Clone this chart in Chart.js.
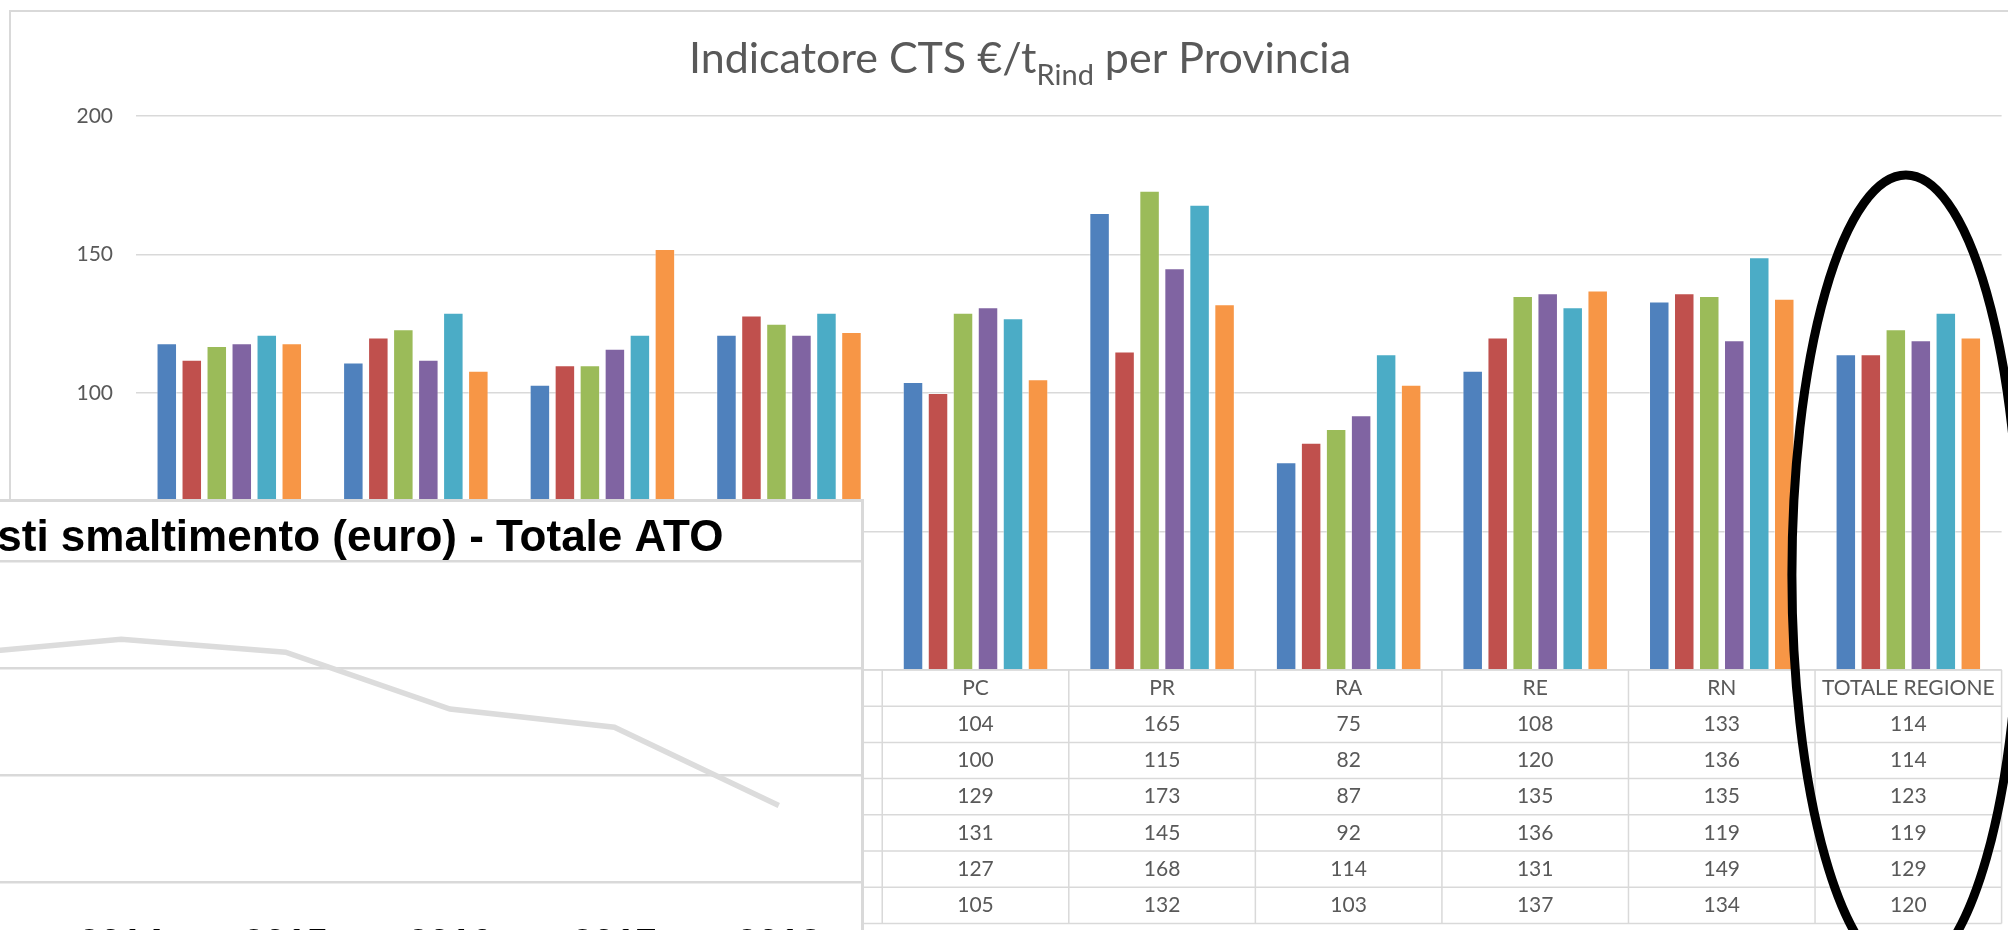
<!DOCTYPE html>
<html>
<head>
<meta charset="utf-8">
<script src="https://cdn.jsdelivr.net/npm/chart.js@4.4.1/dist/chart.umd.min.js"></script>
<style>
html, body { margin: 0; padding: 0; background: #fff; overflow: hidden; }
body { width: 2008px; height: 930px; position: relative; }
#main { position: absolute; left: 0; top: 0; }
#inset { position: absolute; left: -199px; top: 499px; width: 1060px; height: 460px; background: #fff;
         border-top: 3px solid #d9d9d9; border-right: 3px solid #d9d9d9; z-index: 2; }
#inset canvas { display: block; }
</style>
</head>
<body>
<canvas id="main" width="2008" height="930"></canvas>
<div id="inset"><canvas id="ato" width="1060" height="460"></canvas></div>
<script>
// bar chart: CTS per provincia
const categories = ['BO', 'FC', 'FE', 'MO', 'PC', 'PR', 'RA', 'RE', 'RN', 'TOTALE REGIONE'];
const years = ['2013', '2014', '2015', '2016', '2017', '2018'];
const cts2013 = [118, 111, 103, 121, 104, 165, 75, 108, 133, 114];
const cts2014 = [112, 120, 110, 128, 100, 115, 82, 120, 136, 114];
const cts2015 = [117, 123, 110, 125, 129, 173, 87, 135, 135, 123];
const cts2016 = [118, 112, 116, 121, 131, 145, 92, 136, 119, 119];
const cts2017 = [121, 129, 121, 129, 127, 168, 114, 131, 149, 129];
const cts2018 = [118, 108, 152, 122, 105, 132, 103, 137, 134, 120];
const yTicks = [0, 50, 100, 150, 200];

// inset line chart: costi smaltimento totale ATO
const atoYears = ['2013', '2014', '2015', '2016', '2017', '2018'];
const atoCost = [21300000, 22700000, 21500000, 16200000, 14500000, 7200000];
const atoTicks = [0, 10000000, 20000000, 30000000];

const colors = ['#4f81bd', '#c0504d', '#9bbb59', '#8064a2', '#4bacc6', '#f79646'];
const grey = '#595959';
const lineGrey = '#d9d9d9';
const lato = 'Lato, "Open Sans", sans-serif';
const arial = '"Liberation Sans", Arial, sans-serif';

const series = [cts2013, cts2014, cts2015, cts2016, cts2017, cts2018];

const frame = {
  id: 'frame',
  beforeDraw(chart) {
    const ctx = chart.ctx;
    ctx.save();
    ctx.fillStyle = '#fff';
    ctx.fillRect(0, 0, chart.width, chart.height);
    ctx.strokeStyle = lineGrey;
    ctx.lineWidth = 2;
    ctx.strokeRect(10, 11, chart.width + 50, chart.height + 50);
    ctx.restore();
  }
};

const ctsTitle = {
  id: 'ctsTitle',
  afterDraw(chart, args, o) {
    const ctx = chart.ctx;
    ctx.save();
    ctx.fillStyle = grey;
    ctx.textBaseline = 'alphabetic';
    ctx.textAlign = 'left';
    const big = o.size + 'px ' + lato;
    const small = o.subSize + 'px ' + lato;
    ctx.font = big;
    const w1 = ctx.measureText(o.before).width;
    const w3 = ctx.measureText(o.after).width;
    ctx.font = small;
    const w2 = ctx.measureText(o.sub).width;
    let x = o.x - (w1 + w2 + w3) / 2;
    ctx.font = big;
    ctx.fillText(o.before, x, o.y);
    x += w1;
    ctx.font = small;
    ctx.fillText(o.sub, x, o.y + o.subShift);
    x += w2;
    ctx.font = big;
    ctx.fillText(o.after, x, o.y);
    ctx.restore();
  }
};

// Excel style data table under the plot, one column per category
const dataTable = {
  id: 'dataTable',
  afterDatasetsDraw(chart, args, o) {
    const {ctx, chartArea, scales: {x}} = chart;
    const half = (x.getPixelForValue(1) - x.getPixelForValue(0)) / 2;
    const top = chartArea.bottom;
    const rh = o.rowHeight;
    const sets = chart.data.datasets;
    const bottom = top + (sets.length + 1) * rh;
    ctx.save();
    ctx.strokeStyle = lineGrey;
    ctx.lineWidth = 1.5;
    ctx.beginPath();
    for (let r = 0; r <= sets.length + 1; r++) {
      const y = top + r * rh;
      ctx.moveTo(r === 0 ? chartArea.left : o.left, y);
      ctx.lineTo(chartArea.right, y);
    }
    ctx.moveTo(o.left, top + rh);
    ctx.lineTo(o.left, bottom);
    chart.data.labels.forEach((l, i) => {
      const xx = x.getPixelForValue(i) - half;
      ctx.moveTo(xx, top);
      ctx.lineTo(xx, bottom);
    });
    ctx.moveTo(chartArea.right, top);
    ctx.lineTo(chartArea.right, bottom);
    ctx.stroke();

    ctx.font = o.size + 'px ' + lato;
    ctx.textBaseline = 'middle';
    ctx.fillStyle = grey;
    ctx.textAlign = 'center';
    chart.data.labels.forEach((l, i) => ctx.fillText(l, x.getPixelForValue(i), top + rh / 2));
    sets.forEach((ds, r) => {
      const y = top + (r + 1.5) * rh;
      ctx.fillStyle = grey;
      ctx.textAlign = 'center';
      ds.data.forEach((v, i) => ctx.fillText(String(v), x.getPixelForValue(i), y));
      ctx.fillStyle = ds.backgroundColor;
      ctx.fillRect(o.left + 14, y - 6, 12, 12);
      ctx.fillStyle = grey;
      ctx.textAlign = 'left';
      ctx.fillText(ds.label, o.left + 34, y);
    });
    ctx.restore();
  }
};

// hand-drawn style ring around the regional total
const highlight = {
  id: 'highlight',
  afterDraw(chart, args, o) {
    const {ctx, scales: {x, y}} = chart;
    const idx = chart.data.labels.indexOf(o.label);
    const cw = x.getPixelForValue(1) - x.getPixelForValue(0);
    const cx = x.getPixelForValue(idx) - 0.013 * cw;
    const cy = y.getPixelForValue(o.centerValue);
    const ry = y.getPixelForValue(0) - y.getPixelForValue(o.halfSpan);
    ctx.save();
    ctx.strokeStyle = '#000';
    ctx.lineWidth = 9;
    ctx.beginPath();
    ctx.ellipse(cx, cy, 0.611 * cw, ry, 0, 0, Math.PI * 2);
    ctx.stroke();
    ctx.restore();
  }
};

new Chart(document.getElementById('main'), {
  type: 'bar',
  data: {
    labels: categories,
    datasets: series.map((d, i) => ({
      label: years[i],
      data: d,
      backgroundColor: colors[i],
      borderColor: 'rgba(255,255,255,0.45)',
      borderWidth: 1,
      categoryPercentage: 0.804,
      barPercentage: 0.82
    }))
  },
  options: {
    responsive: false,
    animation: false,
    layout: { padding: { left: 0, right: 6.4, top: 116, bottom: 260 } },
    plugins: {
      legend: { display: false },
      title: { display: false },
      tooltip: { enabled: false },
      ctsTitle: { before: 'Indicatore CTS €/t', sub: 'Rind', after: ' per Provincia',
                  x: 1020, y: 73, size: 43, subSize: 29, subShift: 12 },
      dataTable: { rowHeight: 36.2, left: 10, size: 21 },
      highlight: { label: 'TOTALE REGIONE', centerValue: 34.3, halfSpan: 144.4 }
    },
    scales: {
      x: { display: false },
      y: {
        min: yTicks[0],
        max: yTicks[yTicks.length - 1],
        afterBuildTicks: s => { s.ticks = yTicks.map(v => ({ value: v })); },
        afterFit: s => { s.width = 136; },
        border: { display: false },
        grid: { color: lineGrey, lineWidth: 1.5, drawTicks: false },
        ticks: { color: grey, padding: 23, font: { family: lato, size: 21 } }
      }
    }
  },
  plugins: [frame, ctsTitle, dataTable, highlight]
});

new Chart(document.getElementById('ato'), {
  type: 'line',
  data: {
    labels: atoYears,
    datasets: [{
      label: 'Totale ATO',
      data: atoCost,
      borderColor: '#dcdcdc',
      borderWidth: 5.5,
      pointRadius: 0,
      tension: 0,
      fill: false
    }]
  },
  options: {
    responsive: false,
    animation: false,
    layout: { padding: 0 },
    plugins: {
      legend: { display: false },
      tooltip: { enabled: false },
      title: {
        display: true,
        text: 'Costi smaltimento (euro) - Totale ATO',
        color: '#000',
        font: { family: arial, size: 44, weight: 'bold', lineHeight: 1 },
        padding: { top: 15, bottom: 0 }
      }
    },
    scales: {
      x: {
        offset: true,
        afterFit: s => { s.height = 79.3; },
        grid: { display: false },
        border: { display: false },
        ticks: { color: '#000', padding: 32, maxRotation: 0, autoSkip: false,
                 font: { family: arial, size: 38, weight: 'bold' } }
      },
      y: {
        min: atoTicks[0],
        max: atoTicks[atoTicks.length - 1],
        afterBuildTicks: s => { s.ticks = atoTicks.map(v => ({ value: v })); },
        afterFit: s => { s.width = 73.5; },
        border: { display: false },
        grid: { color: lineGrey, lineWidth: 2.5, drawTicks: false },
        ticks: { color: '#000', padding: 8, font: { family: arial, size: 20, weight: 'bold' },
                 callback: v => (v / 1000000) + ' mln' }
      }
    }
  }
});
</script>
</body>
</html>
